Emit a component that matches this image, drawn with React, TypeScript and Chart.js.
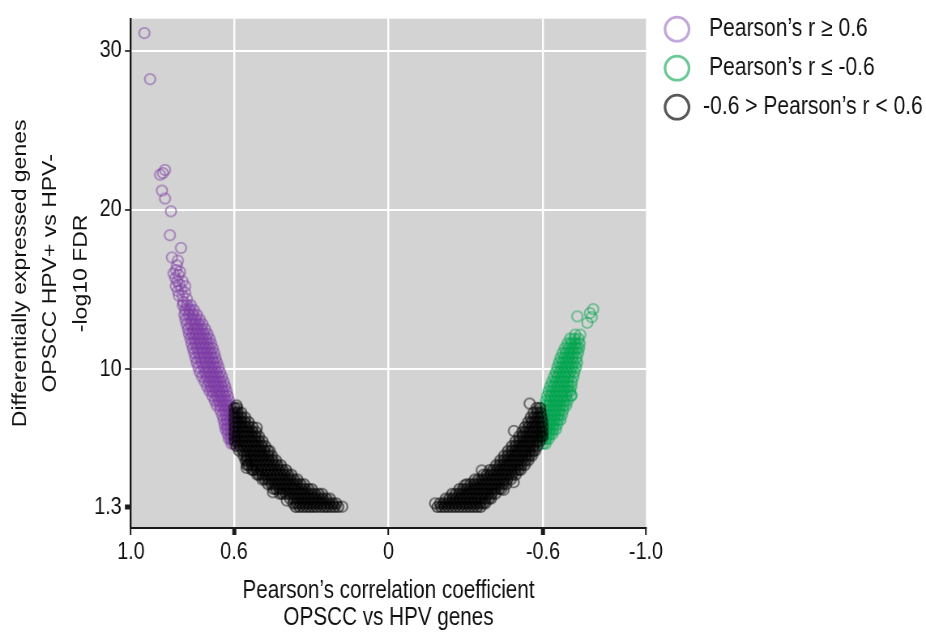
import React, { useEffect, useRef } from 'react';
import { Chart, registerables } from 'chart.js';

Chart.register(...registerables);

// ---------- text ----------
const xTickValues = [1, 0.6, 0, -0.6, -1];
const yTickValues = [1.3, 10, 20, 30];
const legendLabels = ['Pearson’s r ≥ 0.6', 'Pearson’s r ≤ -0.6', '-0.6 > Pearson’s r < 0.6'];
const xTitle = ['Pearson’s correlation coefficient', 'OPSCC vs HPV genes'];
const yTitle = ['Differentially expressed genes', 'OPSCC HPV+ vs HPV-', '-log10 FDR'];

// ---------- data (rows: [ -log10 FDR, r, r, ... ]; pairs: [r, -log10 FDR]) ----------
const positiveRows: number[][] = [
  [5.3, 0.6, 0.61],
  [5.6, 0.6, 0.612, 0.62],
  [5.9, 0.6, 0.612, 0.625],
  [6.2, 0.601, 0.613, 0.626, 0.633],
  [6.5, 0.6, 0.613, 0.626, 0.637],
  [6.8, 0.602, 0.615, 0.628, 0.641],
  [7.1, 0.605, 0.618, 0.631, 0.646],
  [7.4, 0.609, 0.623, 0.637, 0.654],
  [7.7, 0.614, 0.628, 0.641, 0.654, 0.667],
  [8.0, 0.619, 0.633, 0.646, 0.66, 0.675],
  [8.3, 0.624, 0.638, 0.652, 0.666, 0.684],
  [8.6, 0.629, 0.643, 0.657, 0.671, 0.684, 0.695],
  [8.9, 0.634, 0.648, 0.662, 0.676, 0.69, 0.705],
  [9.2, 0.64, 0.654, 0.668, 0.682, 0.697, 0.714],
  [9.5, 0.647, 0.661, 0.675, 0.69, 0.705, 0.724],
  [9.8, 0.654, 0.668, 0.682, 0.697, 0.712, 0.733],
  [10.1, 0.66, 0.674, 0.688, 0.702, 0.717, 0.739],
  [10.4, 0.666, 0.68, 0.695, 0.71, 0.725, 0.745],
  [10.7, 0.672, 0.686, 0.7, 0.715, 0.731, 0.75],
  [11.0, 0.677, 0.691, 0.706, 0.721, 0.737, 0.755],
  [11.3, 0.683, 0.697, 0.712, 0.727, 0.743, 0.76],
  [11.6, 0.689, 0.703, 0.718, 0.733, 0.749, 0.765],
  [11.9, 0.695, 0.709, 0.724, 0.739, 0.755, 0.77],
  [12.2, 0.703, 0.718, 0.733, 0.748, 0.762, 0.775],
  [12.5, 0.712, 0.727, 0.742, 0.757, 0.779],
  [12.8, 0.722, 0.737, 0.752, 0.768, 0.784],
  [13.1, 0.733, 0.748, 0.763, 0.789],
  [13.4, 0.744, 0.759, 0.775, 0.793],
  [13.7, 0.756, 0.772, 0.79],
  [14.0, 0.768, 0.783, 0.799],
];
const positiveSparse: number[][] = [
  [0.783, 14.4], [0.814, 14.6], [0.79, 14.8], [0.805, 15.0], [0.79, 15.2], [0.8, 15.5],
  [0.828, 15.7], [0.82, 15.5], [0.815, 15.9], [0.81, 16.1], [0.825, 16.2], [0.822, 16.5],
  [0.835, 16.0], [0.841, 17.0], [0.806, 17.6], [0.849, 18.4], [0.845, 19.9], [0.868, 20.7],
  [0.88, 21.2], [0.876, 22.3], [0.887, 22.2], [0.868, 22.5], [0.926, 28.2], [0.948, 31.1],
  [0.797, 14.2], [0.812, 15.3], [0.818, 14.9], [0.826, 15.2], [0.818, 16.8], [0.8, 14.6],
];

const negativeRows: number[][] = [
  [5.3, -0.6, -0.61],
  [5.6, -0.6, -0.612, -0.622],
  [5.9, -0.6, -0.613, -0.626, -0.636],
  [6.2, -0.601, -0.614, -0.627, -0.64, -0.65],
  [6.5, -0.602, -0.615, -0.628, -0.641, -0.655],
  [6.8, -0.603, -0.616, -0.63, -0.644, -0.658, -0.668],
  [7.1, -0.605, -0.618, -0.632, -0.646, -0.66, -0.673],
  [7.4, -0.608, -0.622, -0.636, -0.65, -0.664, -0.678],
  [7.7, -0.61, -0.624, -0.638, -0.652, -0.666, -0.68, -0.69],
  [8.0, -0.612, -0.626, -0.64, -0.654, -0.668, -0.682, -0.695],
  [8.3, -0.616, -0.63, -0.645, -0.66, -0.675, -0.69, -0.71],
  [8.6, -0.621, -0.635, -0.65, -0.665, -0.68, -0.695, -0.706],
  [8.9, -0.628, -0.642, -0.656, -0.67, -0.684, -0.698, -0.71],
  [9.2, -0.635, -0.65, -0.665, -0.68, -0.695, -0.712],
  [9.5, -0.643, -0.657, -0.671, -0.685, -0.7, -0.718],
  [9.8, -0.65, -0.664, -0.678, -0.692, -0.706, -0.722],
  [10.1, -0.656, -0.67, -0.684, -0.698, -0.712, -0.728],
  [10.4, -0.662, -0.676, -0.69, -0.704, -0.718, -0.732],
  [10.7, -0.668, -0.683, -0.698, -0.713, -0.73],
  [11.0, -0.676, -0.69, -0.705, -0.72, -0.736],
  [11.3, -0.685, -0.7, -0.715, -0.73, -0.74],
  [11.6, -0.695, -0.71, -0.725, -0.742],
  [11.9, -0.705, -0.722, -0.738],
];
const negativeSparse: number[][] = [
  [-0.725, 12.15], [-0.745, 12.15], [-0.733, 13.3], [-0.772, 12.9], [-0.782, 13.5],
  [-0.789, 13.25], [-0.795, 13.75], [-0.71, 8.35],
];

const neutralLeftRows: number[][] = [
  [1.32, 0.195, 0.21, 0.224, 0.238, 0.25, 0.264, 0.279, 0.292, 0.305, 0.318, 0.332, 0.346, 0.36],
  [1.55, 0.203, 0.217, 0.231, 0.246, 0.26, 0.273, 0.287, 0.3, 0.314, 0.328, 0.342, 0.356, 0.37],
  [1.85, 0.228, 0.242, 0.256, 0.27, 0.284, 0.298, 0.312, 0.326, 0.34, 0.354, 0.368, 0.383],
  [2.15, 0.258, 0.272, 0.286, 0.3, 0.314, 0.328, 0.342, 0.356, 0.37, 0.384, 0.398, 0.412, 0.422],
  [2.45, 0.298, 0.311, 0.325, 0.339, 0.353, 0.367, 0.381, 0.395, 0.409, 0.423, 0.437, 0.447],
  [2.75, 0.328, 0.342, 0.356, 0.37, 0.384, 0.398, 0.412, 0.426, 0.44, 0.454, 0.468],
  [3.05, 0.354, 0.368, 0.382, 0.396, 0.41, 0.424, 0.438, 0.452, 0.466, 0.48, 0.49],
  [3.35, 0.377, 0.391, 0.405, 0.419, 0.433, 0.447, 0.461, 0.475, 0.489, 0.503, 0.51],
  [3.65, 0.398, 0.412, 0.426, 0.44, 0.454, 0.468, 0.482, 0.496, 0.51, 0.524, 0.53],
  [3.95, 0.418, 0.432, 0.446, 0.46, 0.474, 0.488, 0.502, 0.516, 0.53, 0.544, 0.55],
  [4.25, 0.437, 0.451, 0.465, 0.479, 0.493, 0.507, 0.521, 0.535, 0.549, 0.556],
  [4.55, 0.453, 0.467, 0.481, 0.495, 0.509, 0.523, 0.537, 0.551, 0.563],
  [4.85, 0.468, 0.482, 0.496, 0.51, 0.524, 0.538, 0.552, 0.566, 0.58],
  [5.15, 0.479, 0.493, 0.507, 0.521, 0.535, 0.549, 0.563, 0.577, 0.591],
  [5.45, 0.489, 0.503, 0.517, 0.531, 0.545, 0.559, 0.573, 0.587, 0.597],
  [5.75, 0.503, 0.517, 0.531, 0.545, 0.559, 0.573, 0.587, 0.598],
  [6.05, 0.514, 0.528, 0.542, 0.556, 0.57, 0.584, 0.598],
  [6.35, 0.528, 0.542, 0.556, 0.57, 0.584, 0.597],
  [6.65, 0.543, 0.557, 0.571, 0.585, 0.598],
  [6.95, 0.557, 0.571, 0.585, 0.598],
  [7.25, 0.572, 0.586, 0.598],
  [7.55, 0.588, 0.598],
];
const neutralRightRows: number[][] = [
  [1.32, -0.19, -0.204, -0.218, -0.232, -0.246, -0.26, -0.274, -0.288, -0.302, -0.316, -0.33, -0.344, -0.358],
  [1.55, -0.2, -0.214, -0.228, -0.242, -0.256, -0.27, -0.284, -0.298, -0.312, -0.326, -0.34, -0.354, -0.368, -0.376],
  [1.85, -0.222, -0.236, -0.25, -0.264, -0.278, -0.292, -0.306, -0.32, -0.334, -0.348, -0.362, -0.376, -0.39, -0.398],
  [2.15, -0.247, -0.261, -0.275, -0.289, -0.303, -0.317, -0.331, -0.345, -0.359, -0.373, -0.387, -0.401, -0.415],
  [2.45, -0.275, -0.289, -0.303, -0.317, -0.331, -0.345, -0.359, -0.373, -0.387, -0.401, -0.415, -0.429, -0.438],
  [2.75, -0.304, -0.318, -0.332, -0.346, -0.36, -0.374, -0.388, -0.402, -0.416, -0.43, -0.444, -0.457],
  [3.05, -0.335, -0.349, -0.363, -0.377, -0.391, -0.405, -0.419, -0.433, -0.447, -0.461, -0.475],
  [3.35, -0.368, -0.382, -0.396, -0.41, -0.424, -0.438, -0.452, -0.466, -0.48, -0.494],
  [3.65, -0.393, -0.407, -0.421, -0.435, -0.449, -0.463, -0.477, -0.491, -0.505, -0.513],
  [3.95, -0.418, -0.432, -0.446, -0.46, -0.474, -0.488, -0.502, -0.516, -0.529],
  [4.25, -0.434, -0.448, -0.462, -0.476, -0.49, -0.504, -0.518, -0.532, -0.543],
  [4.55, -0.449, -0.463, -0.477, -0.491, -0.505, -0.519, -0.533, -0.547, -0.557],
  [4.85, -0.464, -0.478, -0.492, -0.506, -0.52, -0.534, -0.548, -0.562, -0.569],
  [5.15, -0.479, -0.493, -0.507, -0.521, -0.535, -0.549, -0.563, -0.578],
  [5.45, -0.493, -0.507, -0.521, -0.535, -0.549, -0.563, -0.577, -0.588],
  [5.75, -0.507, -0.521, -0.535, -0.549, -0.563, -0.577, -0.591, -0.598],
  [6.05, -0.519, -0.533, -0.547, -0.561, -0.575, -0.589, -0.598],
  [6.35, -0.53, -0.544, -0.558, -0.572, -0.586, -0.598],
  [6.65, -0.542, -0.556, -0.57, -0.584, -0.597],
  [6.95, -0.552, -0.566, -0.58, -0.594],
  [7.25, -0.563, -0.577, -0.591],
  [7.55, -0.575, -0.589],
];
const neutralSparse: number[][] = [
  [0.551, 3.78], [0.449, 2.25], [0.395, 1.73], [0.18, 1.34], [0.512, 6.3], [0.462, 4.85], [0.59, 7.7],
  [-0.181, 1.55], [-0.296, 2.68], [-0.362, 3.62], [-0.447, 2.4], [-0.486, 2.88], [-0.548, 7.82], [-0.487, 6.1],
];

// ---------- styling ----------
// The reference artwork is horizontally condensed; the canvas is drawn wider and shown at 926px.
const PAGE_W = 926;
const PAGE_H = 637;
const CANVAS_W = 1143;
const K = PAGE_W / CANVAS_W;
const FONT = '"Liberation Sans", Arial, sans-serif';
const TEXT = '#111111';
const AXIS = '#1a1a1a';
const PLOT_BG = '#d3d3d3';
const seriesColors = ['rgba(125,60,165,0.58)', 'rgba(0,165,80,0.58)', 'rgba(0,0,0,0.58)'];
const seriesFills = ['rgba(125,60,165,0.2)', 'rgba(0,165,80,0.2)', 'rgba(0,0,0,0.22)'];
const legendColors = ['#c2a6dc', '#6cc894', '#595959'];
const legendTextShift = [6, 6, 0];

const fromRows = (rows: number[][]) =>
  rows.flatMap(([v, ...rs]) => rs.map((r) => ({ x: r, y: v })));
const fromPairs = (pairs: number[][]) => pairs.map(([r, v]) => ({ x: r, y: v }));

function ringImage(stroke: string, fill: string | null): HTMLCanvasElement {
  const radius = 5.3;
  const lw = 1.6;
  const h = 14;
  const w = 18;
  const c = document.createElement('canvas');
  c.width = w;
  c.height = h;
  const g = c.getContext('2d') as CanvasRenderingContext2D;
  g.translate(w / 2, h / 2);
  g.scale(1 / K, 1);
  g.beginPath();
  g.arc(0, 0, radius, 0, Math.PI * 2);
  if (fill) {
    g.fillStyle = fill;
    g.fill();
  }
  g.lineWidth = lw;
  g.strokeStyle = stroke;
  g.stroke();
  return c;
}

const plotBackground = {
  id: 'plotBackground',
  beforeDraw(chart: any) {
    const { ctx, chartArea: a } = chart;
    ctx.save();
    ctx.fillStyle = PLOT_BG;
    ctx.fillRect(a.left, a.top, a.right - a.left, a.bottom - a.top);
    ctx.restore();
  },
};

const sideLegend = {
  id: 'sideLegend',
  afterDraw(chart: any) {
    const { ctx, chartArea: a } = chart;
    legendLabels.forEach((text, i) => {
      const cy = a.top + 10.5 + i * 39;
      ctx.save();
      ctx.translate(a.right + 38.3, cy);
      ctx.scale(1 / K, 1);
      ctx.beginPath();
      ctx.arc(0, 0, 12, 0, Math.PI * 2);
      ctx.lineWidth = 2.7;
      ctx.strokeStyle = legendColors[i];
      ctx.stroke();
      ctx.restore();
      ctx.save();
      ctx.font = `26px ${FONT}`;
      ctx.fillStyle = TEXT;
      ctx.textAlign = 'left';
      ctx.textBaseline = 'middle';
      ctx.fillText(text, a.right + 70.4 + legendTextShift[i] / K, cy);
      ctx.restore();
    });
  },
};

export default function App() {
  const ref = useRef<HTMLCanvasElement>(null);

  useEffect(() => {
    const groups = [
      { label: legendLabels[0], dense: fromRows(positiveRows), sparse: fromPairs(positiveSparse), i: 0, order: 2 },
      { label: legendLabels[1], dense: fromRows(negativeRows), sparse: fromPairs(negativeSparse), i: 1, order: 2 },
      {
        label: legendLabels[2],
        dense: [...fromRows(neutralLeftRows), ...fromRows(neutralRightRows)],
        sparse: fromPairs(neutralSparse),
        i: 2,
        order: 1,
      },
    ];
    const datasets = groups.map((d) => {
      const filled = ringImage(seriesColors[d.i], seriesFills[d.i]);
      const hollow = ringImage(seriesColors[d.i], null);
      const denseCount = d.dense.length;
      return {
        label: d.label,
        data: [...d.dense, ...d.sparse],
        order: d.order,
        pointStyle: (c: any) => (c.dataIndex < denseCount ? filled : hollow),
        pointRadius: 5,
        borderColor: seriesColors[d.i],
        backgroundColor: seriesFills[d.i],
        showLine: false,
      };
    });

    const chart = new Chart(ref.current as HTMLCanvasElement, {
      type: 'scatter',
      data: { datasets } as any,
      plugins: [plotBackground, sideLegend],
      options: {
        animation: false,
        responsive: false,
        devicePixelRatio: 1,
        events: [],
        layout: { padding: { top: 12, right: CANVAS_W - 646 / K, bottom: 0, left: 0 } },
        plugins: { legend: { display: false }, tooltip: { enabled: false } },
        scales: {
          x: {
            type: 'linear',
            min: -1,
            max: 1,
            reverse: true,
            afterBuildTicks: (s: any) => {
              s.ticks = xTickValues.map((v) => ({ value: v }));
            },
            afterFit: (s: any) => {
              s.height = 109;
            },
            ticks: {
              autoSkip: false,
              maxRotation: 0,
              padding: 3,
              color: TEXT,
              font: { family: FONT, size: 24.5 },
              callback: (v: any) => (Number(v) === 0 ? '0' : Number(v).toFixed(1)),
            },
            grid: {
              color: (c: any) => (Math.abs(c.tick?.value ?? 0) === 1 ? 'rgba(0,0,0,0)' : '#ffffff'),
              lineWidth: 2.4,
              drawTicks: true,
              tickLength: 7,
              tickColor: AXIS,
              tickWidth: (c: any) => (Math.abs(c.tick?.value ?? 0) === 0.6 ? 5 : 2),
            },
            border: { color: AXIS, width: 2 },
            title: {
              display: true,
              text: xTitle,
              color: TEXT,
              font: { family: FONT, size: 25.5, lineHeight: 1.047 },
              padding: { top: 0, bottom: 5.75 },
            },
          },
          y: {
            type: 'linear',
            min: 0,
            max: 32,
            afterBuildTicks: (s: any) => {
              s.ticks = yTickValues.map((v) => ({ value: v }));
            },
            afterFit: (s: any) => {
              s.width = 131 / K;
            },
            ticks: {
              autoSkip: false,
              padding: 4,
              color: TEXT,
              font: { family: FONT, size: 24.5 },
              callback: (v: any) => (Number(v) === 1.3 ? '1.3' : String(v)),
            },
            grid: {
              color: (c: any) => (c.tick?.value === 1.3 ? 'rgba(0,0,0,0)' : '#ffffff'),
              lineWidth: 2,
              drawTicks: true,
              tickLength: 7.5,
              tickColor: AXIS,
              tickWidth: (c: any) => (c.tick?.value === 1.3 ? 5 : 1.6),
            },
            border: { color: AXIS, width: 2.4 },
            title: {
              display: true,
              text: yTitle,
              color: TEXT,
              font: { family: FONT, size: 23, lineHeight: 1.64 },
              padding: { top: 6.4, bottom: 0 },
            },
          },
        },
      } as any,
    });
    return () => chart.destroy();
  }, []);

  return (
    <div style={{ position: 'fixed', left: 0, top: 0, width: PAGE_W, height: PAGE_H, background: '#ffffff' }}>
      <canvas
        ref={ref}
        width={CANVAS_W}
        height={PAGE_H}
        style={{ display: 'block', width: PAGE_W, height: PAGE_H }}
      />
    </div>
  );
}
